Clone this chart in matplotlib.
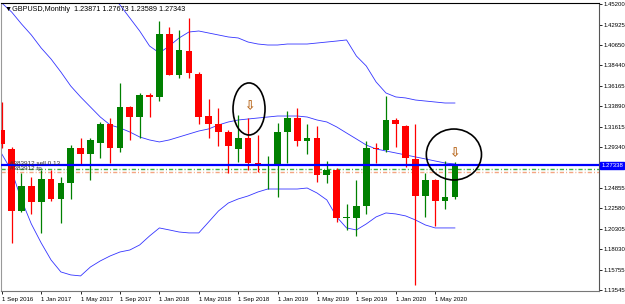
import numpy as np
import matplotlib
matplotlib.use("Agg")
import matplotlib.pyplot as plt
from matplotlib.patches import Ellipse

plt.rcParams["font.family"] = ["Liberation Sans", "DejaVu Sans"]

# GBPUSD monthly candles, Sep 2016 .. Jul 2020
opens = [1.3126, 1.2915, 1.2229, 1.2506, 1.2329, 1.2583, 1.2362, 1.2539, 1.2926, 1.2860,
         1.2982, 1.3192, 1.2926, 1.3380, 1.3269, 1.3513, 1.3491, 1.4188, 1.3734, 1.4000,
         1.3745, 1.3280, 1.3192, 1.3103, 1.2915, 1.3037, 1.2760, 1.2738, 1.2727, 1.3103,
         1.3258, 1.3004, 1.3037, 1.2627, 1.2683, 1.2152, 1.2152, 1.2284, 1.2926, 1.2904,
         1.3236, 1.3170, 1.2804, 1.2395, 1.2572, 1.2340, 1.23871]
highs = [1.3435, 1.2937, 1.2650, 1.2605, 1.2683, 1.2683, 1.2605, 1.2959, 1.3037, 1.3037,
         1.3214, 1.3258, 1.3646, 1.3391, 1.3535, 1.3535, 1.4332, 1.4266, 1.4232, 1.4365,
         1.3767, 1.3469, 1.3369, 1.3126, 1.3292, 1.3258, 1.3070, 1.2838, 1.3203, 1.3336,
         1.3369, 1.3192, 1.3170, 1.2782, 1.2705, 1.2306, 1.2572, 1.3004, 1.2982, 1.3502,
         1.3258, 1.3181, 1.3192, 1.2650, 1.2580, 1.2782, 1.27673]
lows = [1.2926, 1.1875, 1.2218, 1.2196, 1.1986, 1.2340, 1.2096, 1.2362, 1.2749, 1.2572,
        1.2816, 1.2760, 1.2882, 1.3015, 1.3037, 1.3269, 1.3446, 1.3730, 1.3701, 1.3701,
        1.3192, 1.3037, 1.2948, 1.2650, 1.2771, 1.2683, 1.2661, 1.2472, 1.2384, 1.2760,
        1.2948, 1.2860, 1.2550, 1.2539, 1.2107, 1.2019, 1.1952, 1.2196, 1.2760, 1.2882,
        1.2937, 1.2716, 1.1410, 1.2163, 1.2063, 1.2251, 1.23589]
closes = [1.2971, 1.2229, 1.2506, 1.2329, 1.2583, 1.2362, 1.2539, 1.2926, 1.2860, 1.3015,
          1.3192, 1.2926, 1.3380, 1.3269, 1.3513, 1.3491, 1.4188, 1.3734, 1.4011, 1.3756,
          1.3269, 1.3192, 1.3103, 1.2948, 1.3037, 1.2760, 1.2738, 1.2745, 1.3103, 1.3258,
          1.3004, 1.3037, 1.2627, 1.2683, 1.2152, 1.2163, 1.2284, 1.2926, 1.2915, 1.3236,
          1.3192, 1.2816, 1.2395, 1.2572, 1.2340, 1.2384, 1.27343]

# Bollinger bands
bb_upper = [1.6202, 1.6191, 1.6247, 1.6269, 1.6191, 1.6136, 1.5981, 1.5704, 1.5472, 1.5151,
            1.4863, 1.4631, 1.4509, 1.4365, 1.4221, 1.4055, 1.3978, 1.4055, 1.4144, 1.4210,
            1.4221, 1.4199, 1.4177, 1.4155, 1.4144, 1.4099, 1.4077, 1.4066, 1.4066, 1.4077,
            1.4077, 1.4077, 1.4088, 1.4099, 1.4110, 1.4122, 1.3944, 1.3834, 1.3657, 1.3535,
            1.3491, 1.3480, 1.3457, 1.3446, 1.3435, 1.3424, 1.3424]
bb_middle = [1.4531, 1.4431, 1.4299, 1.4177, 1.4033, 1.3911, 1.3767, 1.3612, 1.3491, 1.3380,
             1.3269, 1.3181, 1.3148, 1.3103, 1.3048, 1.3015, 1.2993, 1.3015, 1.3048, 1.3081,
             1.3114, 1.3137, 1.3181, 1.3214, 1.3236, 1.3247, 1.3258, 1.3269, 1.3280, 1.3280,
             1.3280, 1.3269, 1.3236, 1.3214, 1.3159, 1.3092, 1.3026, 1.2959, 1.2915, 1.2893,
             1.2871, 1.2849, 1.2827, 1.2805, 1.2782, 1.2760, 1.2749]
bb_lower = [1.2860, 1.2672, 1.2351, 1.2085, 1.1875, 1.1687, 1.1554, 1.1521, 1.1510, 1.1609,
            1.1676, 1.1731, 1.1775, 1.1797, 1.1853, 1.1952, 1.2041, 1.2019, 1.1996, 1.1986,
            1.1986, 1.2107, 1.2229, 1.2317, 1.2362, 1.2395, 1.2439, 1.2472, 1.2472, 1.2472,
            1.2472, 1.2483, 1.2428, 1.2351, 1.2163, 1.2041, 1.2019, 1.2085, 1.2163, 1.2207,
            1.2196, 1.2174, 1.2129, 1.2074, 1.2041, 1.2041, 1.2041]

date_labels = ["1 Sep 2016", "1 Jan 2017", "1 May 2017", "1 Sep 2017", "1 Jan 2018",
               "1 May 2018", "1 Sep 2018", "1 Jan 2019", "1 May 2019", "1 Sep 2019",
               "1 Jan 2020", "1 May 2020"]
price_ticks = [1.45200, 1.42925, 1.40650, 1.38440, 1.36165, 1.33890, 1.31615, 1.29340,
               1.24855, 1.22580, 1.20305, 1.18030, 1.15755, 1.13545]

order_price = 1.27338
tp_price = 1.2694
sl_price = 1.2661

# marked signals (bar index, price)
signal_x = [25.1, 45.9]
signal_y = [1.3380, 1.2865]
circle_y = [1.3358, 1.2854]
circle_w = [3.25, 5.6]
circle_h = [0.0576, 0.0564]

UP = "#008000"
DOWN = "#FF0000"
BAND = "#3434ff"

fig = plt.figure(figsize=(6.25, 3.04), dpi=100)
ax = fig.add_axes([1 / 625, 13 / 304, 598 / 625, 288 / 304])

x = np.arange(len(opens))
o = np.array(opens)
c = np.array(closes)
colors = [UP if cc >= oo else DOWN for oo, cc in zip(o, c)]

ax.vlines(x, lows, highs, colors=colors, linewidth=0.9, zorder=3)
body_bottom = np.minimum(o, c)
body_height = np.maximum(np.abs(c - o), 0.0012)
ax.bar(x, body_height, bottom=body_bottom, width=0.68, color=colors,
       linewidth=0, zorder=4)

for band in (bb_upper, bb_middle, bb_lower):
    ax.plot(x, band, color=BAND, linewidth=0.6, zorder=2)

# order lines
ax.axhline(order_price, color="#0000FF", linewidth=1.6, zorder=5)
ax.axhline(tp_price, color="#3cb043", linewidth=1.0, linestyle=(0, (3, 1.5, 0.7, 1.5)), zorder=1)
ax.axhline(sl_price, color="#f4a582", linewidth=1.0, linestyle=(0, (3, 1.5, 0.7, 1.5)), zorder=1)
ax.text(0.85, order_price + 0.0022, "#383912 sell 0.13", fontsize=4.6, color="#333333",
        va="center", ha="left", zorder=6)
ax.text(0.85, order_price - 0.0035, "#383912 tp", fontsize=4.6, color="#333333",
        va="center", ha="left", zorder=6)

for sx, sy, cy, cw, ch in zip(signal_x, signal_y, circle_y, circle_w, circle_h):
    ax.add_patch(Ellipse((sx, cy), cw, ch, fill=False, edgecolor="black",
                         linewidth=1.2, zorder=7))
    ax.text(sx, sy, "\u21e9", fontsize=9, color="#b8661a", ha="center", va="center",
            zorder=8, family="DejaVu Sans", fontweight="bold")

ax.set_xlim(-0.08, 60.63)
ax.set_ylim(1.1343, 1.4531)

# axes styling like the terminal
ax.spines["top"].set_color("black")
ax.spines["right"].set_color("#555555")
ax.spines["left"].set_color("#999999")
ax.spines["bottom"].set_color("#777777")
for s in ax.spines.values():
    s.set_linewidth(0.8)

ax.yaxis.tick_right()
ax.set_yticks(price_ticks)
ax.set_yticklabels([f"{p:.5f}" for p in price_ticks])
ax.tick_params(axis="y", labelsize=4.3, length=2.0, width=0.6, pad=1.0, colors="black")

ax.set_xticks(np.arange(0, 4 * len(date_labels), 4))
ax.set_xticklabels(date_labels, ha="left")
ax.tick_params(axis="x", labelsize=4.4, length=2.5, width=0.6, pad=1.5)

# current price label on the right scale
ax.text(1.0035, order_price, f"{order_price:.5f}", transform=ax.get_yaxis_transform(),
        fontsize=4.3, color="white", va="center", ha="left", zorder=10, clip_on=False,
        bbox=dict(boxstyle="square,pad=0.15", facecolor="#0000FF", edgecolor="#0000FF"))

# symbol header
ax.text(0.35, 1.4460, "\u25bcGBPUSD,Monthly  1.23871 1.27673 1.23589 1.27343",
        fontsize=5.2, color="black", va="center", ha="left", zorder=10,
        family=["Liberation Sans", "DejaVu Sans"])

fig.savefig("out.png", dpi=100, facecolor="white")
